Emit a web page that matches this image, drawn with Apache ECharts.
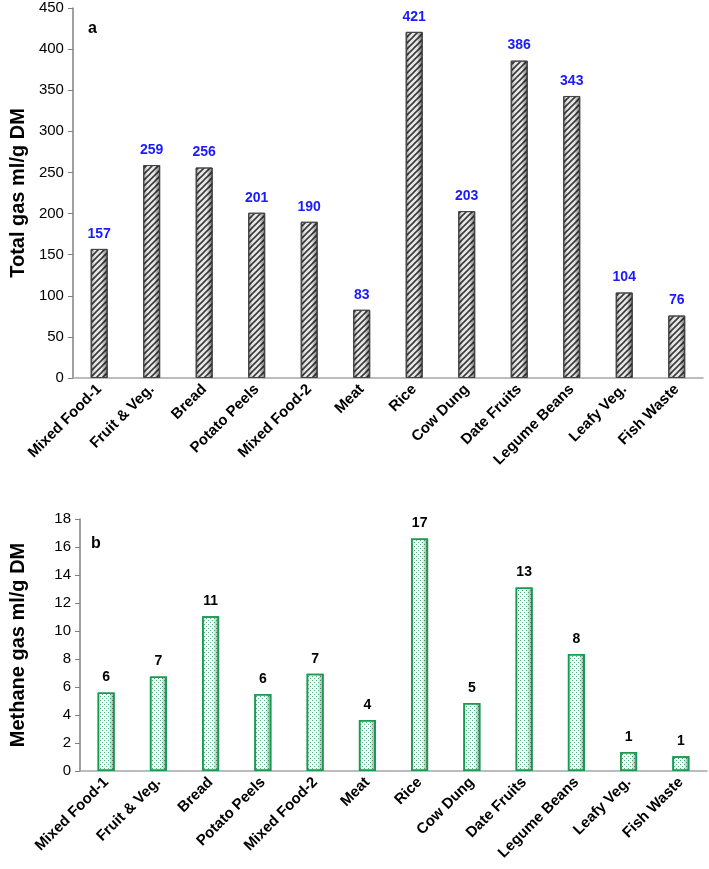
<!DOCTYPE html>
<html><head><meta charset="utf-8">
<script src="https://cdn.jsdelivr.net/npm/echarts@6/dist/echarts.min.js"></script>
<style>html,body{margin:0;padding:0;background:#fff}#c{width:709px;height:869px}</style>
</head><body><div id="c"></div>
<script>
const categories = ['Mixed Food-1','Fruit & Veg.','Bread','Potato Peels','Mixed Food-2','Meat','Rice','Cow Dung','Date Fruits','Legume Beans','Leafy Veg.','Fish Waste'];
const totalGas = [157,259,256,201,190,83,421,203,386,343,104,76];
const methaneGas = [5.6,6.75,11.05,5.5,6.95,3.65,16.6,4.85,13.1,8.35,1.35,1.05];
const totalTicks = {min:0,max:450,interval:50};
const methaneTicks = {min:0,max:18,interval:2};

function hatch(){
  const c=document.createElement('canvas');c.width=6;c.height=6;
  const g=c.getContext('2d');
  g.fillStyle='#e8e8e8';g.fillRect(0,0,6,6);
  g.strokeStyle='#3a3a3a';g.lineWidth=1.6;
  g.beginPath();
  g.moveTo(-1,7);g.lineTo(7,-1);
  g.moveTo(-1,1);g.lineTo(1,-1);
  g.moveTo(5,7);g.lineTo(7,5);
  g.stroke();
  return c;
}
function dots(){
  const c=document.createElement('canvas');c.width=4;c.height=4;
  const g=c.getContext('2d');
  g.fillStyle='#f6fcf8';g.fillRect(0,0,4,4);
  g.fillStyle='#4fb07c';g.fillRect(0,0,1,1);g.fillRect(2,2,1,1);
  return c;
}
const shade = (a,b)=>({type:'linear',x:0,y:0,x2:1,y2:0,colorStops:[
  {offset:0,color:'rgba(0,0,0,'+a+')'},{offset:0.25,color:'rgba(0,0,0,0)'},
  {offset:0.65,color:'rgba(0,0,0,0)'},{offset:1,color:'rgba(0,0,0,'+b+')'}]});
const FONT='Liberation Sans';
const chart=echarts.init(document.getElementById('c'));
const catAxis=(gi)=>({type:'category',gridIndex:gi,data:categories,
  axisLine:{lineStyle:{color:'#a6a6a6',width:1.5}},axisTick:{show:false},
  axisLabel:{rotate:45,interval:0,fontFamily:FONT,fontWeight:'bold',fontSize:15,color:'#000',margin:9}});
const valAxis=(gi,t,name)=>({type:'value',gridIndex:gi,min:t.min,max:t.max,interval:t.interval,
  name:name,nameLocation:'middle',nameGap:gi===0?41:52,
  nameTextStyle:{fontFamily:FONT,fontWeight:'bold',fontSize:20,color:'#000'},
  axisLine:{show:true,lineStyle:{color:'#808080',width:1.5}},
  axisTick:{show:true,length:5,lineStyle:{color:'#808080'}},
  splitLine:{show:false},
  axisLabel:{fontFamily:FONT,fontSize:15,color:'#000',margin:9}});
chart.setOption({
  animation:false,
  grid:[{left:69,right:6,top:8,height:370},{left:79,right:2,top:519,height:252}],
  xAxis:[catAxis(0),catAxis(1)],
  yAxis:[valAxis(0,totalTicks,'Total gas ml/g DM'),valAxis(1,methaneTicks,'Methane gas ml/g DM')],
  graphic:[
    {type:'text',left:88,top:21,style:{text:'a',font:'bold 16px "Liberation Sans"',fill:'#000'}},
    {type:'text',left:91,top:536,style:{text:'b',font:'bold 16px "Liberation Sans"',fill:'#000'}}
  ],
  series:[
    {type:'bar',xAxisIndex:0,yAxisIndex:0,data:totalGas,barWidth:17,
     itemStyle:{color:{image:hatch(),repeat:'repeat'},borderColor:'#555',borderWidth:1},
     label:{show:true,position:'top',distance:8,fontFamily:FONT,fontWeight:'bold',fontSize:14,color:'#1a1aff'}},
    {type:'bar',xAxisIndex:0,yAxisIndex:0,data:totalGas,barWidth:17,barGap:'-100%',silent:true,
     itemStyle:{color:shade(0.4,0.55),borderColor:'#444',borderWidth:1}},
    {type:'bar',xAxisIndex:1,yAxisIndex:1,data:methaneGas,barWidth:17,
     itemStyle:{color:{image:dots(),repeat:'repeat'},borderColor:'#1a9a50',borderWidth:1.5},
     label:{show:true,position:'top',distance:8,fontFamily:FONT,fontWeight:'bold',fontSize:14,color:'#000',formatter:p=>Math.round(p.value)}},
    {type:'bar',xAxisIndex:1,yAxisIndex:1,data:methaneGas,barWidth:17,barGap:'-100%',silent:true,
     itemStyle:{color:shade(0.12,0.4),borderColor:'#1a9a50',borderWidth:1.5}}
  ]
});
</script></body></html>
